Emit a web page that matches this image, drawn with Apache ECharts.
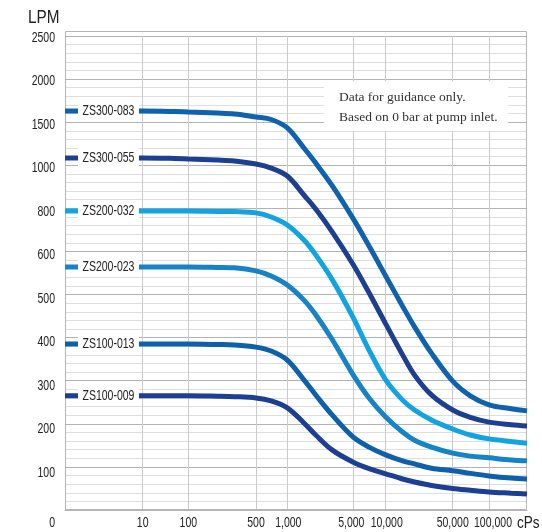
<!DOCTYPE html>
<html>
<head>
<meta charset="utf-8">
<title>Flow vs viscosity</title>
<script src="https://cdn.jsdelivr.net/npm/echarts@6/dist/echarts.min.js"></script>
<style>
  html, body { margin: 0; padding: 0; background: #fff; }
  #chart { width: 542px; height: 532px; }
</style>
</head>
<body>
<div id="chart"></div>
<script>
// viscosity (cPs) shared by all curves, flow in LPM
var viscosity = [1, 10, 50, 100, 200, 300, 500, 700, 1000, 1500, 2000, 3000, 5000, 7000, 10000, 15000, 20000, 30000, 50000, 70000, 100000, 150000, 200000];
var flowZS300_083 = [1630, 1630, 1624, 1618, 1606, 1595, 1560, 1531, 1433, 1200, 1026, 904, 751, 625, 543, 473, 425, 364, 299, 265, 244, 235, 230];
var flowZS300_055 = [1085, 1085, 1079, 1073, 1061, 1050, 1015, 987, 950, 862, 797, 690, 569, 504, 432, 360, 313, 267, 232, 215, 204, 198, 195];
var flowZS200_032 = [788, 788, 788, 788, 786, 785, 779, 760, 723, 653, 592, 534, 446, 371, 302, 255, 232, 209, 188, 174, 165, 159, 155];
var flowZS200_023 = [564, 564, 564, 564, 563, 562, 555, 543, 522, 487, 453, 395, 313, 260, 216, 181, 162, 146, 132, 125, 121, 116, 114];
var flowZS100_013 = [385, 385, 385, 385, 384, 383, 378, 369, 348, 302, 267, 220, 169, 146, 128, 114, 107, 97, 91, 85, 79, 74, 72];
var flowZS100_009 = [265, 265, 265, 265, 264, 263, 260, 253, 237, 202, 174, 139, 111, 96, 84, 72, 65, 57, 50, 46, 42, 39, 37];

var seriesNames = ['ZS300-083', 'ZS300-055', 'ZS200-032', 'ZS200-023', 'ZS100-013', 'ZS100-009'];
var seriesFlows = [flowZS300_083, flowZS300_055, flowZS200_032, flowZS200_023, flowZS100_013, flowZS100_009];
var seriesColors = ['#0f62ad', '#1d3f92', '#12a4e0', '#1683c6', '#0e60ab', '#1c3f94'];

var xTickValues = [10, 100, 500, 1000, 5000, 10000, 50000, 100000];
var xTickLabels = ['10', '100', '500', '1,000', '5,000', '10,000', '50,000', '100,000'];
var yTickValues = [0, 100, 200, 300, 400, 500, 600, 800, 1000, 1500, 2000, 2500];
var yTickLabels = ['0', '100', '200', '300', '400', '500', '600', '800', '1000', '1500', '2000', '2500'];

// the printed viscosity axis is not a clean log scale, so map it piecewise
var xScaleValues = [1, 10, 100, 500, 1000, 5000, 10000, 50000, 100000, 200000];
var xScaleUnits = [0, 77.7, 123.3, 191, 222.3, 288.3, 320.7, 387.7, 424, 462];
// the printed x labels sit slightly off their grid lines
var xLabelNudge = [0, 0, 0, 1, -2, 1, 0, 4];

function xPos(v) {
    var lv = Math.log10(v);
    for (var i = 0; i < xScaleValues.length - 1; i++) {
        var a = Math.log10(xScaleValues[i]), b = Math.log10(xScaleValues[i + 1]);
        if (lv <= b || i === xScaleValues.length - 2) {
            return xScaleUnits[i] + (lv - a) / (b - a) * (xScaleUnits[i + 1] - xScaleUnits[i]);
        }
    }
}

// flow axis: ticks equally spaced, linear between them
function yPos(v) {
    for (var i = 0; i < yTickValues.length - 1; i++) {
        if (v <= yTickValues[i + 1] || i === yTickValues.length - 2) {
            return i + (v - yTickValues[i]) / (yTickValues[i + 1] - yTickValues[i]);
        }
    }
}

// narrow type is faked by squeezing Liberation Sans
var sansFont = '14px "Liberation Sans", Arial, sans-serif';
var squeeze = 0.75;

var series = seriesNames.map(function (name, s) {
    return {
        name: name,
        type: 'line',
        data: viscosity.map(function (v, i) {
            return [xPos(v), yPos(seriesFlows[s][i])];
        }),
        smooth: 0.35,
        clip: false,
        showSymbol: false,
        lineStyle: { color: seriesColors[s], width: 5 },
        itemStyle: { color: seriesColors[s] },
        emphasis: { disabled: true }
    };
});

var staticGraphics = [
    {
        type: 'rect', silent: true, z: 1,
        shape: { x: 65.5, y: 31.5, width: 461, height: 478 },
        style: { fill: 'none', stroke: '#b5b5b5', lineWidth: 1 }
    },
    {
        type: 'rect', silent: true, z: 1,
        shape: { x: 324, y: 81, width: 184, height: 50 },
        style: { fill: '#fff' }
    },
    {
        type: 'text', silent: true, z: 1, x: 339, y: 97,
        style: { text: 'Data for guidance only.', fill: '#333', font: '13.5px "Liberation Serif", "Times New Roman", serif', verticalAlign: 'middle' }
    },
    {
        type: 'text', silent: true, z: 1, x: 339, y: 117,
        style: { text: 'Based on 0 bar at pump inlet.', fill: '#333', font: '13.5px "Liberation Serif", "Times New Roman", serif', verticalAlign: 'middle' }
    },
    {
        type: 'text', silent: true, x: 28, y: 18, scaleX: 0.85,
        style: { text: 'LPM', fill: '#222', font: '18px "Liberation Sans", Arial, sans-serif', verticalAlign: 'middle' }
    },
    {
        type: 'text', silent: true, x: 517, y: 523, scaleX: 0.8,
        style: { text: 'cPs', fill: '#222', font: '17px "Liberation Sans", Arial, sans-serif', verticalAlign: 'middle' }
    }
];

var myChart = echarts.init(document.getElementById('chart'));
var option = {
    animation: false,
    grid: { left: 65, right: 15, top: 36, bottom: 22 },
    xAxis: {
        type: 'value',
        min: 0,
        max: 462,
        axisLine: { show: true, lineStyle: { color: '#b5b5b5' } },
        axisTick: { show: false, customValues: xTickValues.map(xPos) },
        axisLabel: { show: false },
        splitLine: { show: true, lineStyle: { color: '#cbcbcb' } }
    },
    yAxis: {
        type: 'value',
        min: 0,
        max: yTickValues.length - 1,
        interval: 1,
        axisLine: { show: true, lineStyle: { color: '#b5b5b5' } },
        axisTick: { show: false },
        axisLabel: { show: false },
        splitLine: { show: true, lineStyle: { color: '#b3b3b3' } },
        minorTick: { show: false, splitNumber: 5 },
        minorSplitLine: { show: true, lineStyle: { color: '#dedede' } }
    },
    graphic: staticGraphics,
    series: series
};
myChart.setOption(option, true);

// tick labels and curve names, placed through the chart's own coordinate system
var labelGraphics = [];
xTickValues.forEach(function (v, j) {
    var p = myChart.convertToPixel({ gridIndex: 0 }, [xPos(v), 0]);
    labelGraphics.push({
        type: 'text', silent: true, x: p[0] + xLabelNudge[j], y: p[1] + 13, scaleX: squeeze,
        style: { text: xTickLabels[j], fill: '#222', font: sansFont, align: 'center', verticalAlign: 'middle' }
    });
});
yTickValues.forEach(function (v, i) {
    var p = myChart.convertToPixel({ gridIndex: 0 }, [0, yPos(v)]);
    var dy = i === 0 ? 13 : 2 + (yTickValues.length - 1 - i) * 0.4;
    labelGraphics.push({
        type: 'text', silent: true, x: 55, y: p[1] + dy, scaleX: squeeze,
        style: { text: yTickLabels[i], fill: '#222', font: sansFont, align: 'right', verticalAlign: 'middle' }
    });
});
seriesNames.forEach(function (name, s) {
    var p = myChart.convertToPixel({ gridIndex: 0 }, [xPos(viscosity[0]), yPos(seriesFlows[s][0])]);
    labelGraphics.push({
        type: 'text', silent: true, z: 10, x: p[0] + 13, y: p[1], scaleX: squeeze,
        style: {
            text: name, fill: '#222', font: sansFont, align: 'left', verticalAlign: 'middle',
            backgroundColor: '#fff', padding: [3, 6, 3, 6]
        }
    });
});
myChart.setOption({ graphic: staticGraphics.concat(labelGraphics) });
</script>
</body>
</html>
